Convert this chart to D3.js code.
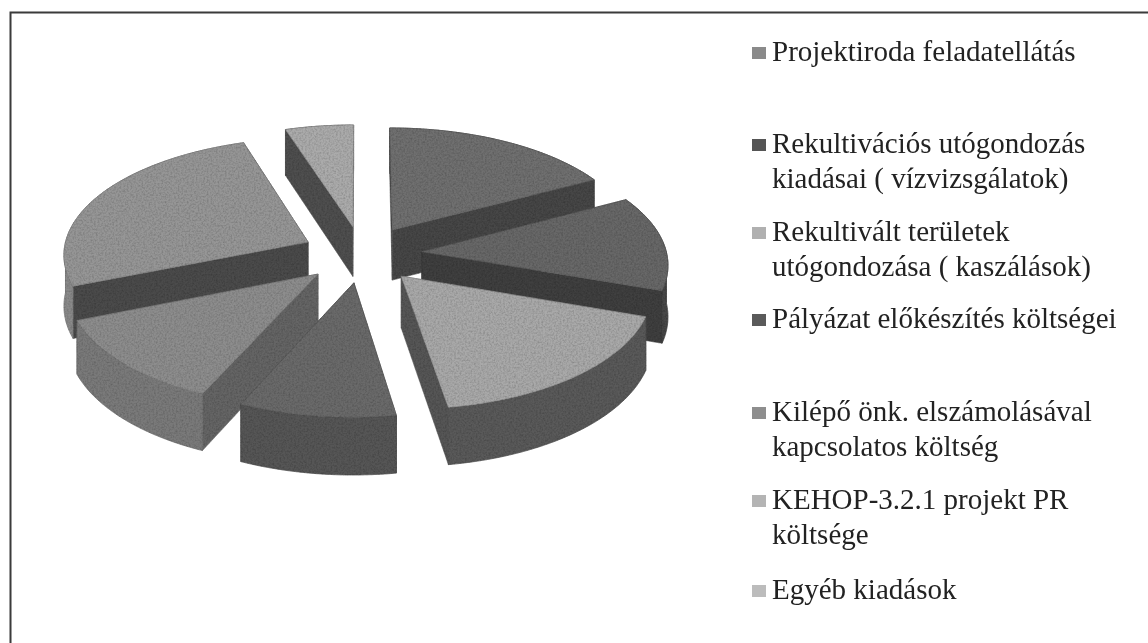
<!DOCTYPE html>
<html>
<head>
<meta charset="utf-8">
<script src="https://cdnjs.cloudflare.com/ajax/libs/d3/7.8.5/d3.min.js"></script>
<style>
  html, body { margin: 0; padding: 0; background: #fff; }
  svg { display: block; }
  text { font-family: "Liberation Serif", serif; fill: #222; }
</style>
</head>
<body>
<div id="graph_box"></div>
<script>
// values (share of the pie, %)
const categories = [
    "Projektiroda feladatellátás",
    "Rekultivációs utógondozás kiadásai ( vízvizsgálatok)",
    "Rekultivált területek utógondozása ( kaszálások)",
    "Pályázat előkészítés költségei",
    "Kilépő önk. elszámolásával kapcsolatos költség",
    "KEHOP-3.2.1 projekt PR költsége",
    "Egyéb kiadások"
];
const values = [17.2, 13.1, 17.2, 9.2, 12.2, 26.1, 5.0];

const labelLines = [
    ["Projektiroda feladatellátás"],
    ["Rekultivációs utógondozás", "kiadásai ( vízvizsgálatok)"],
    ["Rekultivált területek", "utógondozása ( kaszálások)"],
    ["Pályázat előkészítés költségei"],
    ["Kilépő önk. elszámolásával", "kapcsolatos költség"],
    ["KEHOP-3.2.1 projekt PR", "költsége"],
    ["Egyéb kiadások"]
];

const topColors = ["#6f6f6f", "#686868", "#a9a9a9", "#6b6b6b", "#8d8d8d", "#969696", "#ababab"];
const faceColors = ["#474747", "#3f3f3f", "#565656", "#515151", "#656565", "#4b4b4b", "#505050"];
const rimColors = ["#474747", "#474747", "#5a5a5a", "#565656", "#7a7a7a", "#8a8a8a", "#505050"];
const swatchColors = ["#8a8a8a", "#555555", "#b0b0b0", "#5a5a5a", "#8e8e8e", "#b4b4b4", "#bcbcbc"];
const legendBaselines = [61, 153, 241, 328, 421, 509, 599];

const width = 1148, height = 643;
const cx = 362, cy = 254, rx = 245, ry = 116, tilt = 0.094, depth = 51, explode = 0.245;

const svg = d3.select("#graph_box").append("svg")
    .attr("width", width)
    .attr("height", height);

// scan look: a little blur, and grain on the pie
const defs = svg.append("defs");
const soft = defs.append("filter").attr("id", "soft");
soft.append("feGaussianBlur").attr("stdDeviation", 0.45);

const grain = defs.append("filter").attr("id", "grain")
    .attr("x", "-5%").attr("y", "-5%").attr("width", "110%").attr("height", "110%");
grain.append("feTurbulence")
    .attr("type", "fractalNoise").attr("baseFrequency", 0.55).attr("numOctaves", 2).attr("seed", 4)
    .attr("result", "noise");
grain.append("feColorMatrix").attr("in", "noise").attr("type", "matrix")
    .attr("values", "0 0 0 0 0  0 0 0 0 0  0 0 0 0 0  0.7 0 0 0 -0.26")
    .attr("result", "dots");
grain.append("feComposite").attr("in", "dots").attr("in2", "SourceAlpha").attr("operator", "in").attr("result", "clipped");
const merge = grain.append("feMerge").attr("result", "merged");
merge.append("feMergeNode").attr("in", "SourceGraphic");
merge.append("feMergeNode").attr("in", "clipped");
grain.append("feGaussianBlur").attr("in", "merged").attr("stdDeviation", 0.7);

// only the top and left edge of the frame are on the page
svg.append("path")
    .attr("d", "M10.5,643V12.5H1148")
    .attr("fill", "none").attr("stroke", "#3a3a3a").attr("stroke-width", 2)
    .attr("filter", "url(#soft)");

const pie = d3.pie().sort(null).value(d => d);
const arcs = pie(values);

// unit pie coordinates to screen, nearer points are drawn bigger
function project(u, v, drop) {
    const s = 1 / (1 - tilt * v);
    return [cx + rx * u * s, cy + (ry * v + (drop || 0)) * s];
}

function rimPoints(a0, a1, ox, oy, drop) {
    const n = Math.max(2, Math.ceil((a1 - a0) / 0.03));
    return d3.range(n + 1).map(i => {
        const a = a0 + (a1 - a0) * i / n;
        return project(ox + Math.sin(a), oy - Math.cos(a), drop);
    });
}

const line = d3.line();
const g = svg.append("g").attr("filter", "url(#grain)");

function drawRim(a0, a1, ox, oy, color) {
    if (a1 <= a0) return;
    const top = rimPoints(a0, a1, ox, oy, 0), bottom = rimPoints(a0, a1, ox, oy, depth);
    g.append("path")
        .attr("d", line(top.concat(bottom.reverse())) + "Z")
        .attr("fill", color)
        .attr("stroke", d3.color(color).darker(0.4)).attr("stroke-width", 0.7);
}

// back slices first
const drawOrder = [0, 6, 5, 1, 4, 2, 3];
drawOrder.forEach(i => {
    const d = arcs[i];
    const mid = (d.startAngle + d.endAngle) / 2;
    const ox = explode * Math.sin(mid), oy = -explode * Math.cos(mid);

    const apexTop = project(ox, oy, 0), apexBot = project(ox, oy, depth);
    const rimTop = rimPoints(d.startAngle, d.endAngle, ox, oy, 0);
    const rimBot = rimPoints(d.startAngle, d.endAngle, ox, oy, depth);

    // front of the rim runs from 90 to 270 degrees, it goes over the cut faces
    const frontStart = Math.max(d.startAngle, Math.PI / 2);
    const frontEnd = Math.min(d.endAngle, 3 * Math.PI / 2);
    drawRim(d.startAngle, Math.min(d.endAngle, Math.PI / 2), ox, oy, rimColors[i]);
    drawRim(Math.max(d.startAngle, 3 * Math.PI / 2), d.endAngle, ox, oy, rimColors[i]);

    // the two cut faces
    [[rimTop[0], rimBot[0]], [rimTop[rimTop.length - 1], rimBot[rimBot.length - 1]]].forEach(p => {
        g.append("path")
            .attr("d", line([apexTop, p[0], p[1], apexBot]) + "Z")
            .attr("fill", faceColors[i]).attr("stroke", faceColors[i]).attr("stroke-width", 0.5);
    });

    drawRim(frontStart, frontEnd, ox, oy, rimColors[i]);

    // top
    g.append("path")
        .attr("d", line([apexTop].concat(rimTop)) + "Z")
        .attr("fill", topColors[i])
        .attr("stroke", d3.color(topColors[i]).darker(0.4)).attr("stroke-width", 0.7);
});

// legend
const legend = svg.append("g").attr("class", "legend").attr("filter", "url(#soft)");
categories.forEach((name, i) => {
    const y = legendBaselines[i];
    legend.append("rect")
        .attr("x", 752).attr("y", y - 14)
        .attr("width", 14).attr("height", 12)
        .attr("fill", swatchColors[i]);
    labelLines[i].forEach((t, j) => {
        legend.append("text")
            .attr("x", 772).attr("y", y + j * 35)
            .style("font-size", "29px")
            .text(t);
    });
});
</script>
</body>
</html>
